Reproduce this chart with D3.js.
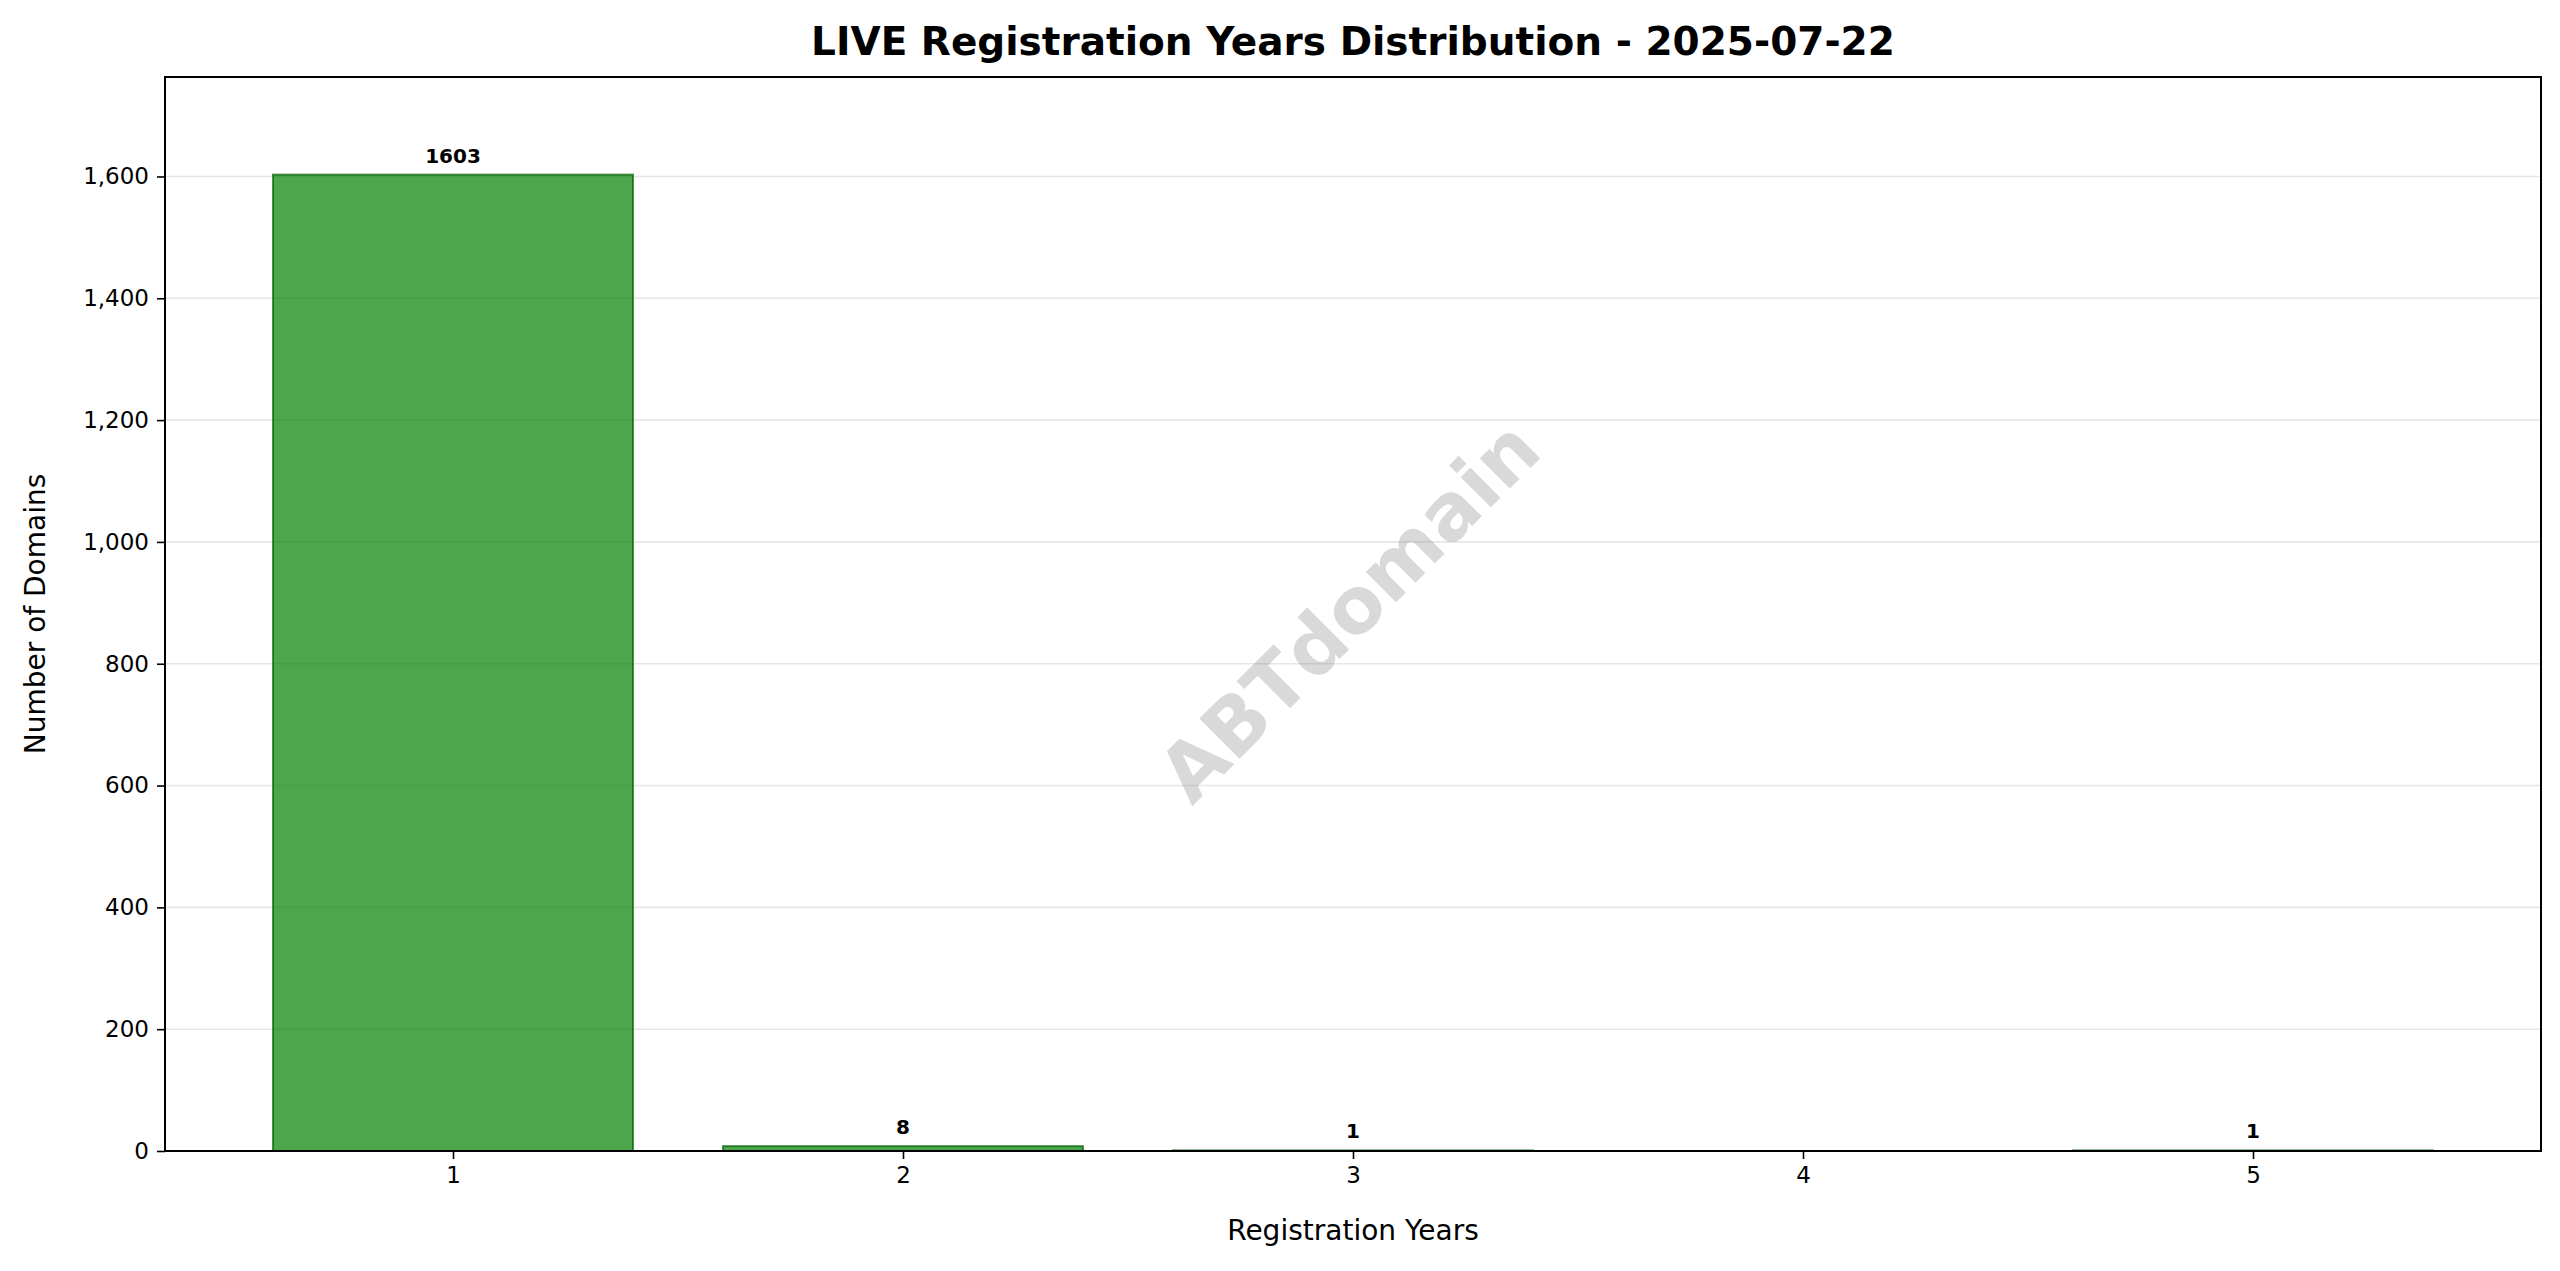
<!DOCTYPE html>
<html><head><meta charset="utf-8">
<script src="https://cdn.jsdelivr.net/npm/d3@7"></script>
<style>body{margin:0;background:#fff}text{font-family:"DejaVu Sans",sans-serif}</style>
</head><body>
<svg id="c" width="2560" height="1271"></svg>
<script>
const categories = [1, 2, 3, 4, 5];
const counts = [1603, 8, 1, 0, 1];
const yTicks = [0, 200, 400, 600, 800, 1000, 1200, 1400, 1600];

const svg = d3.select("#c");
const L = 165, R = 2541, T = 77, B = 1151;
const x = d3.scaleLinear().domain([0.36, 5.64]).range([L, R]);
const y = d3.scaleLinear().domain([0, 1603 * 1.1]).range([B, T]);
const bw = x(1.4) - x(0.6);

svg.append("g").selectAll("line").data(yTicks).join("line")
  .attr("x1", L).attr("x2", R).attr("y1", d => y(d)).attr("y2", d => y(d))
  .attr("stroke", "#e6e6e6").attr("stroke-width", 1.6);

svg.append("g").selectAll("rect").data(categories).join("rect")
  .attr("x", (d) => x(d) - bw / 2).attr("width", bw)
  .attr("y", (d, i) => y(counts[i])).attr("height", (d, i) => B - y(counts[i]))
  .attr("fill", "#008000").attr("fill-opacity", 0.7)
  .attr("stroke", "#006400").attr("stroke-opacity", 0.7).attr("stroke-width", 2);

svg.append("text").attr("x", x(3)).attr("y", y(880)).attr("transform", `rotate(-45 ${x(3)} ${y(880)})`)
  .attr("text-anchor", "middle").attr("dominant-baseline", "middle")
  .attr("font-size", 78).attr("font-weight", "bold").attr("fill", "#808080").attr("fill-opacity", 0.3)
  .text("ABTdomain");

svg.append("g").selectAll("text").data(categories.filter((d, i) => counts[i] > 0)).join("text")
  .attr("x", d => x(d)).attr("y", d => y(counts[categories.indexOf(d)]) - 12)
  .attr("text-anchor", "middle").attr("font-size", 20).attr("font-weight", "bold")
  .text(d => counts[categories.indexOf(d)]);

const xa = svg.append("g").attr("transform", `translate(0,${B})`)
  .call(d3.axisBottom(x).tickValues(categories).tickFormat(d3.format("d")).tickSize(8).tickPadding(8));
const ya = svg.append("g").attr("transform", `translate(${L},0)`)
  .call(d3.axisLeft(y).tickValues(yTicks).tickSize(8).tickPadding(8));
[xa, ya].forEach(a => { a.selectAll("text").attr("font-size", 23).attr("font-family", "DejaVu Sans").attr("fill", "#000");
  a.selectAll("line").attr("stroke", "#000").attr("stroke-width", 1.6); a.select(".domain").remove(); });

svg.append("rect").attr("x", L).attr("y", T).attr("width", R - L).attr("height", B - T)
  .attr("fill", "none").attr("stroke", "#000").attr("stroke-width", 2);

svg.append("text").attr("x", (L + R) / 2).attr("y", 55).attr("text-anchor", "middle")
  .attr("font-size", 39).attr("font-weight", "bold").text("LIVE Registration Years Distribution - 2025-07-22");
svg.append("text").attr("x", (L + R) / 2).attr("y", 1240).attr("text-anchor", "middle")
  .attr("font-size", 28).text("Registration Years");
svg.append("text").attr("transform", `translate(45,${(T + B) / 2}) rotate(-90)`).attr("text-anchor", "middle")
  .attr("font-size", 28).text("Number of Domains");
</script></body></html>
